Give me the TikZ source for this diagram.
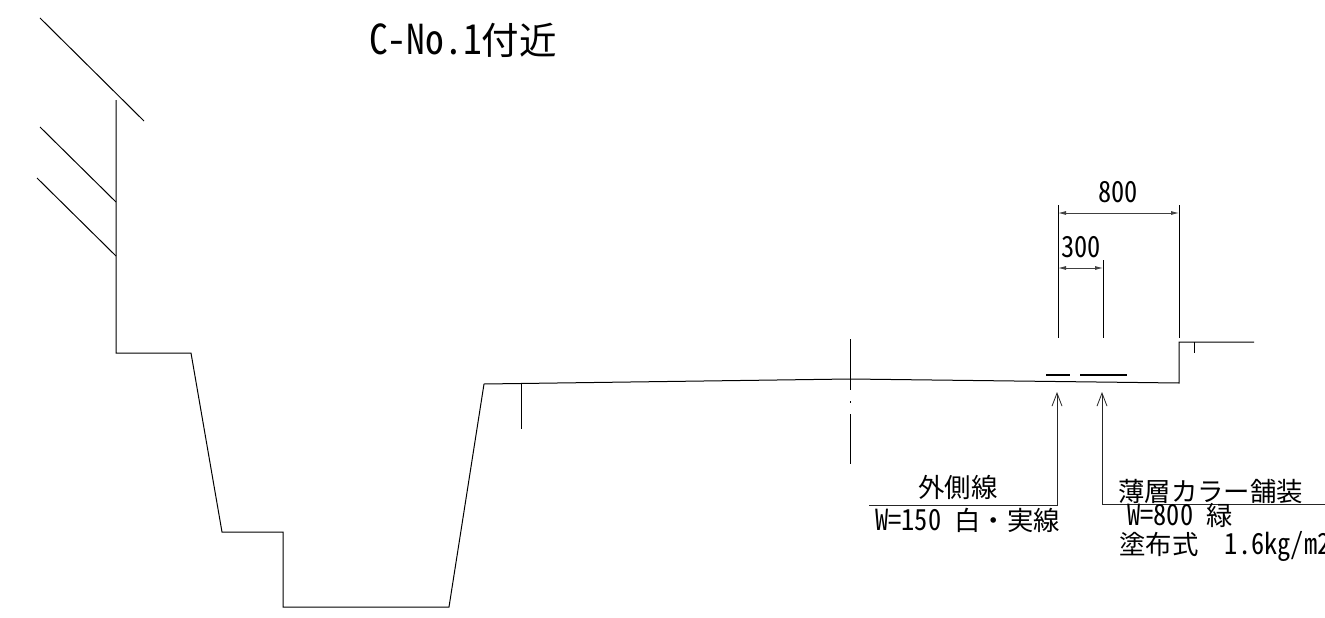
\documentclass[tikz,border=0pt]{standalone}
\usepackage{fontspec}
\usetikzlibrary{arrows.meta}
\newfontfamily\jpfont{Noto Sans CJK JP}
\newfontfamily\halffont[RawFeature=+hwid,Scale=1.1,FakeStretch=0.91]{Noto Sans CJK JP}
\newcommand{\hw}[1]{{\halffont #1}}
\newcommand{\hwgap}{\hspace{0.5em}}
\tikzset{
    cadline/.style={line width=1pt, black},
    dimline/.style={line width=0.8pt, black!75, {Latex[length=8pt,width=4pt]}-{Latex[length=8pt,width=4pt]}},
    leader/.style={line width=0.8pt, black!85, {Straight Barb[length=13pt,width=10pt,line width=0.8pt]}-},
    lanemark/.style={line width=2.4pt, black},
    cadtext/.style={anchor=base west, inner sep=0pt, font=\fontsize{26.4}{26.4}\selectfont\jpfont},
}
\begin{document}
\begin{tikzpicture}[x=1pt,y=-1pt]
    \clip (0,0) rectangle (1325,618);
    % slope and section
    \draw[cadline] (40,18) -- (144,121);
    \draw[cadline] (40,127) -- (116,202);
    \draw[cadline] (37,178) -- (116,256);
    \draw[cadline] (116,100) -- (116,353) -- (191,353) -- (222,532) -- (283,532) -- (283,607)
        -- (449,607) -- (484,384) -- (850,379) -- (1179,383) -- (1179,342) -- (1254,342);
    \draw[cadline] (521,384) -- (521,429);
    \draw[cadline] (1194,342) -- (1194,353);
    % centre line
    \draw[cadline] (850,339) -- (850,390);
    \draw[cadline] (850,401) -- (850,403);
    \draw[cadline] (850,414) -- (850,464);
    % lane marks
    \draw[lanemark] (1046,375) -- (1070,375);
    \draw[lanemark] (1080,375) -- (1127,375);
    % dimensions
    \draw[cadline] (1058,205) -- (1058,338);
    \draw[cadline] (1179,205) -- (1179,338);
    \draw[cadline] (1103,260) -- (1103,338);
    \draw[dimline] (1058,213) -- (1179,213);
    \draw[dimline] (1058,268) -- (1103,268);
    \node[cadtext] (dimall) at (1098,202) {\hw{800}};
    \node[cadtext] (dimmark) at (1061,257) {\hw{300}};
    % leaders
    \coordinate (markleft) at (1057,392);
    \coordinate (markright) at (1102,392);
    \draw[leader] (markleft) -- (1057,505) -- (869,505);
    \draw[leader] (markright) -- (1102,504) -- (1325,504);
    % labels
    \node[cadtext, font=\fontsize{37.5}{37.5}\selectfont\jpfont] (title) at (369,55) {\hw{C-No.1}付近};
    \node[cadtext] (outer) at (918,497) {外側線};
    \node[cadtext] (outerspec) at (875,530) {\hw{W=150}\hwgap 白・実線};
    \node[cadtext] (colour) at (1118,501) {薄層カラー舗装};
    \node[cadtext] (colourspec) at (1127,525) {\hw{W=800}\hwgap 緑};
    \node[cadtext] (colourcoat) at (1119,554) {塗布式\hwgap\hwgap\hw{1.6kg/m2}};
\end{tikzpicture}
\end{document}
